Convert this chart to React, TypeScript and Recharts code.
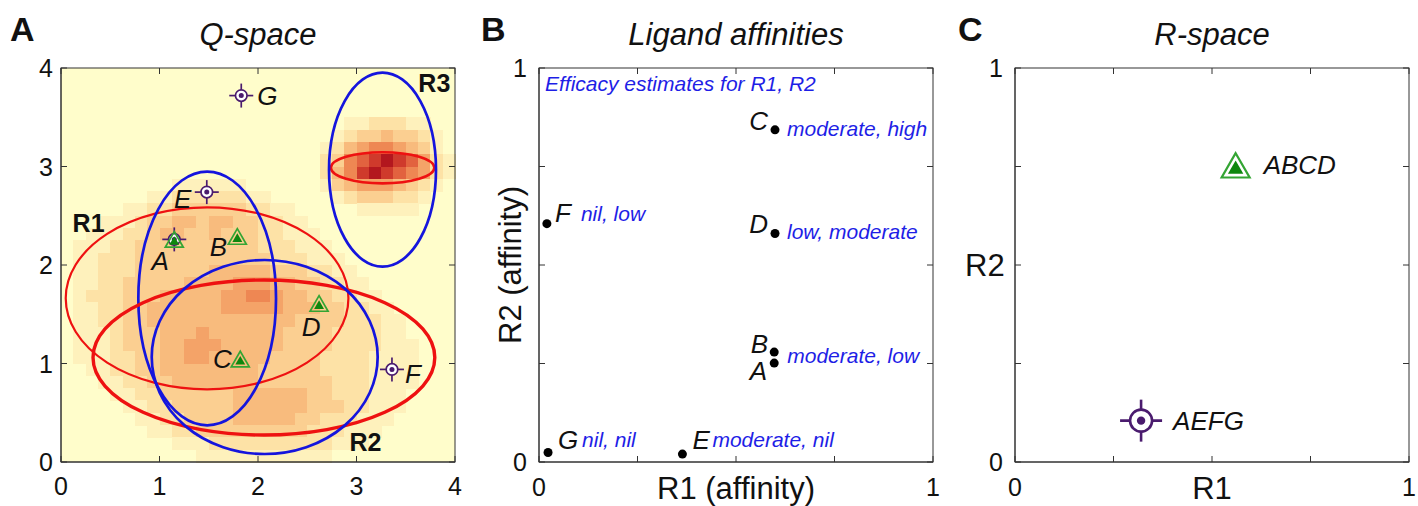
import React from 'react';
import { ScatterChart, Scatter, XAxis, YAxis, ReferenceArea, ReferenceLine } from 'recharts';

const FONT = 'Arial, "Liberation Sans", Helvetica, sans-serif';
const INK = '#111';
const FRAME = '#333';
const RED = '#EE1111';
const BLUE = '#1515DD';
const GREEN_EDGE = '#34A534';
const GREEN_FILL = '#0E870E';
const PURPLE = '#4A1B6E';
const NOTE_BLUE = '#1E1EE6';
const TICK_LEN = 6;

// ---- ligands ----
const ligandNames = ['A', 'B', 'C', 'D', 'E', 'F', 'G'];
// positions in Q-space (panel A)
const qSpaceX = [1.15, 1.79, 1.82, 2.62, 1.48, 3.36, 1.83];
const qSpaceY = [2.26, 2.29, 1.045, 1.61, 2.74, 0.94, 3.72];
// affinities (panel B)
const affinityR1 = [0.597, 0.597, 0.599, 0.599, 0.364, 0.02, 0.023];
const affinityR2 = [0.251, 0.279, 0.843, 0.58, 0.02, 0.605, 0.024];
const efficacyNotes = ['moderate, low', '', 'moderate, high', 'low, moderate', 'moderate, nil', 'nil, low', 'nil, nil'];
// groups in R-space (panel C)
const groupNames = ['ABCD', 'AEFG'];
const groupR1 = [0.56, 0.32];
const groupR2 = [0.753, 0.105];
const triangleMembers = ['A', 'B', 'C', 'D'];
const crosshairMembers = ['A', 'E', 'F', 'G'];

// receptor regions in Q-space: centre and half axes
const regionNames = ['R1', 'R1', 'R2', 'R2', 'R3', 'R3'];
const regionCX = [1.483, 1.484, 2.06, 2.068, 3.265, 3.264];
const regionCY = [1.662, 1.66, 1.061, 1.066, 2.987, 2.968];
const regionRX = [1.435, 0.699, 1.735, 1.147, 0.525, 0.543];
const regionRY = [0.924, 1.288, 0.787, 0.985, 0.158, 0.985];
const regionLabelNames = ['R1', 'R2', 'R3'];
const regionLabelX = [0.28, 3.09, 3.79];
const regionLabelY = [2.43, 0.206, 3.845];

const qTicks = [0, 1, 2, 3, 4];
const unitTicks = [0, 0.25, 0.5, 0.75, 1];
const unitTickLabels = ['0', '', '', '', '1'];

// sample density in Q-space, 0.125 cells, rows from y=4 down to y=0, levels 0-9
const densityCell = 0.125;
const densityRows = [
  '00000000 00000000 00000000 00000000',
  '00000000 00000000 00000000 00000000',
  '00000000 00000000 00000000 00000000',
  '00000000 00000000 00000000 00000000',
  '00000000 00000000 00000001 12221100',
  '00000000 00000000 00000012 33433210',
  '00000000 00000000 00000124 56654310',
  '00000000 00000000 00000236 78987521',
  '00000000 00000000 00000246 89876521',
  '00000000 01111110 00000134 55543210',
  '00000001 12222221 10000012 33322100',
  '00000112 23333332 21100000 11111000',
  '00011123 34434433 22110000 00000000',
  '00111223 44334333 22111000 00000000',
  '01112233 33333333 22211100 00000000',
  '01122233 33333333 32221110 00000000',
  '01122233 33334444 43332211 00000000',
  '01122333 33444455 54433221 10000000',
  '01222333 44444556 65443322 11000000',
  '01122334 44444555 55444332 21100000',
  '01122334 44444444 44433332 22110000',
  '01112333 44454444 44333322 22110000',
  '01112333 44555444 44333322 22111000',
  '01112233 44554444 43333222 21111000',
  '00112233 44444444 33333222 21111000',
  '00011223 34444444 33333322 21111000',
  '00001122 33333344 44443322 21110000',
  '00000112 23333344 44443332 21110000',
  '00000011 22333344 44433222 11100000',
  '00000001 12233333 33332221 11000000',
  '00000000 01112222 22222211 10000000',
  '00000000 00011111 11111100 00000000',
];
const densityColors = ['#FFFDCB', '#FEF1BC', '#FDE2A6', '#FBCF91', '#F8BB7D', '#F4A368', '#EE8753', '#E2623F', '#CF3A2C', '#B3171E'];

const REGION_STYLE = [
  { stroke: RED, width: 2.2 },
  { stroke: BLUE, width: 2.7 },
  { stroke: RED, width: 3.4 },
  { stroke: BLUE, width: 2.7 },
  { stroke: RED, width: 2.6 },
  { stroke: BLUE, width: 2.7 },
];

// label centre offsets (px) from Q-space markers
const Q_LABEL_OFFSET: Record<string, [number, number]> = {
  A: [-14, 21], B: [-19, 10], C: [-18, 0], D: [-8, 23], E: [-24, 6], F: [21, 4], G: [26, 0],
};
// panel B letter: dx, baseline dy, anchor
const B_LETTER: Record<string, [number, number, 'start' | 'end']> = {
  A: [-7, 17, 'end'], B: [-6, 1, 'end'], C: [-7, 0, 'end'], D: [-7, 0, 'end'],
  E: [10, -5, 'start'], F: [8, -2, 'start'], G: [10, -4, 'start'],
};
// panel B efficacy note: dx, baseline dy
const B_NOTE: Record<string, [number, number]> = {
  A: [13, 0], C: [12, 6], D: [12, 6], E: [30, -7], F: [34, -3], G: [34, -6],
};

const qPoints = ligandNames.map((name, i) => ({ name, x: qSpaceX[i], y: qSpaceY[i] }));
const trianglePoints = qPoints.filter((p) => triangleMembers.includes(p.name));
const crosshairPoints = qPoints.filter((p) => crosshairMembers.includes(p.name));
const affinityPoints = ligandNames.map((name, i) => ({ name, x: affinityR1[i], y: affinityR2[i], note: efficacyNotes[i] }));
const groupPoints = groupNames.map((name, i) => ({ name, x: groupR1[i], y: groupR2[i] }));
const regionLabelPoints = regionLabelNames.map((name, i) => ({ name, x: regionLabelX[i], y: regionLabelY[i] }));

const densityCells = densityRows.flatMap((row, r) =>
  row.replace(/ /g, '').split('').map((ch, c) => ({
    level: Number(ch),
    x1: c * densityCell,
    x2: (c + 1) * densityCell,
    y1: 4 - (r + 1) * densityCell,
    y2: 4 - r * densityCell,
  }))
).filter((d) => d.level > 0);

const TriangleMark = ({ cx, cy, w, sw }: { cx: number; cy: number; w: number; sw: number }) => {
  const h = w * 0.87;
  const gy = cy + h / 6;
  const pts = (s: number) =>
    `${cx},${gy - (2 * h * s) / 3} ${cx - (w * s) / 2},${gy + (h * s) / 3} ${cx + (w * s) / 2},${gy + (h * s) / 3}`;
  return (
    <g>
      <polygon points={pts(1)} fill="none" stroke={GREEN_EDGE} strokeWidth={sw} strokeLinejoin="miter" />
      <polygon points={pts(0.55)} fill={GREEN_FILL} />
    </g>
  );
};

const Crosshair = ({ cx, cy, r, arm, dot, sw }: { cx: number; cy: number; r: number; arm: number; dot: number; sw: number }) => (
  <g>
    <line x1={cx - arm} x2={cx + arm} y1={cy} y2={cy} stroke={PURPLE} strokeWidth={sw} />
    <line x1={cx} x2={cx} y1={cy - arm} y2={cy + arm} stroke={PURPLE} strokeWidth={sw} />
    <circle cx={cx} cy={cy} r={r} fill="#fff" stroke={PURPLE} strokeWidth={sw} />
    <circle cx={cx} cy={cy} r={dot} fill={PURPLE} />
  </g>
);

const qTriangleShape = (p: any) => <TriangleMark cx={p.cx} cy={p.cy} w={18} sw={1.7} />;
const qCrosshairShape = (p: any) => <Crosshair cx={p.cx} cy={p.cy} r={5.8} arm={12} dot={2.5} sw={1.7} />;
const qLabelShape = (p: any) => {
  const [dx, dy] = Q_LABEL_OFFSET[p.payload.name];
  return (
    <text x={p.cx + dx} y={p.cy + dy + 9.4} textAnchor="middle" fontSize={26} fontStyle="italic" fill={INK} fontFamily={FONT}>
      {p.payload.name}
    </text>
  );
};
const regionLabelShape = (p: any) => (
  <text x={p.cx} y={p.cy + 8.9} textAnchor="middle" fontSize={25} fontWeight="bold" fill={INK} fontFamily={FONT}>
    {p.payload.name}
  </text>
);

const affinityShape = (p: any) => {
  const { name, note } = p.payload;
  const [ldx, ldy, anchor] = B_LETTER[name];
  const n = B_NOTE[name];
  return (
    <g>
      <circle cx={p.cx} cy={p.cy} r={4.5} fill="#000" />
      <text x={p.cx + ldx} y={p.cy + ldy} textAnchor={anchor} fontSize={26} fontStyle="italic" fill={INK} fontFamily={FONT}>
        {name}
      </text>
      {note && n ? (
        <text x={p.cx + n[0]} y={p.cy + n[1]} fontSize={21} fontStyle="italic" fill={NOTE_BLUE} fontFamily={FONT}>
          {note}
        </text>
      ) : null}
    </g>
  );
};

const groupTriangleShape = (p: any) => (
  <g>
    <TriangleMark cx={p.cx} cy={p.cy} w={28} sw={2.2} />
    <text x={p.cx + 28} y={p.cy + 9} fontSize={26} fontStyle="italic" fill={INK} fontFamily={FONT}>{p.payload.name}</text>
  </g>
);
const groupCrosshairShape = (p: any) => (
  <g>
    <Crosshair cx={p.cx} cy={p.cy} r={11} arm={21} dot={4.2} sw={2.6} />
    <text x={p.cx + 32} y={p.cy + 9} fontSize={26} fontStyle="italic" fill={INK} fontFamily={FONT}>{p.payload.name}</text>
  </g>
);

const labelStyle = { fontSize: 31, fill: INK, fontFamily: FONT };

const makeTick = (fmt: (v: number) => string, side: 'bottom' | 'left') => (p: any) => (
  <text x={p.x} y={p.y} dy={side === 'bottom' ? '0.71em' : '0.36em'} textAnchor={side === 'bottom' ? 'middle' : 'end'}
    fontSize={25} fill={INK} fontFamily={FONT}>
    {fmt(p.payload.value)}
  </text>
);

// inward tick marks at both ends of each grid value, plus the closed box
const vTickShape = (p: any) => {
  const top = Math.min(p.y1, p.y2);
  const bot = Math.max(p.y1, p.y2);
  return (
    <g stroke={FRAME} strokeWidth={1}>
      <line x1={p.x1} x2={p.x1} y1={top} y2={top + TICK_LEN} />
      <line x1={p.x1} x2={p.x1} y1={bot} y2={bot - TICK_LEN} />
    </g>
  );
};
const hTickShape = (p: any) => {
  const left = Math.min(p.x1, p.x2);
  const right = Math.max(p.x1, p.x2);
  return (
    <g stroke={FRAME} strokeWidth={1}>
      <line x1={left} x2={left + TICK_LEN} y1={p.y1} y2={p.y1} />
      <line x1={right} x2={right - TICK_LEN} y1={p.y1} y2={p.y1} />
    </g>
  );
};
const boxShape = (p: any) => (
  <rect x={p.x} y={p.y} width={p.width} height={p.height} fill="none" stroke={FRAME} strokeWidth={1} />
);

const frame = (domain: [number, number], ticks: number[]) => [
  <ReferenceArea key="box" x1={domain[0]} x2={domain[1]} y1={domain[0]} y2={domain[1]} ifOverflow="visible" shape={boxShape} />,
  ...ticks.map((t) => <ReferenceLine key={`vx${t}`} x={t} ifOverflow="visible" shape={vTickShape} />),
  ...ticks.map((t) => <ReferenceLine key={`hy${t}`} y={t} ifOverflow="visible" shape={hTickShape} />),
];

const axes = (
  domain: [number, number],
  ticks: number[],
  fmt: (v: number) => string,
  yWidth: number,
  yTickMargin: number,
  xTickMargin: number,
  xLabel?: any,
  yLabel?: any
) => [
  <XAxis key="xb" type="number" dataKey="x" domain={domain} ticks={ticks} interval={0} allowDataOverflow
    height={44} tickSize={-TICK_LEN} tickMargin={xTickMargin} tick={makeTick(fmt, 'bottom')}
    axisLine={{ stroke: FRAME }} tickLine={false} label={xLabel} />,
  <YAxis key="yl" type="number" dataKey="y" domain={domain} ticks={ticks} interval={0} allowDataOverflow
    width={yWidth} tickSize={-TICK_LEN} tickMargin={yTickMargin} tick={makeTick(fmt, 'left')}
    axisLine={{ stroke: FRAME }} tickLine={false} label={yLabel} />,
];

const unitFmt = (v: number) => unitTickLabels[unitTicks.indexOf(v)] ?? '';

const QSpace = () => (
  <ScatterChart width={470} height={506} margin={{ top: 68, right: 15, bottom: 0, left: 0 }}>
    {axes([0, 4], qTicks, (v) => String(v), 61, 14, 21)}
    <ReferenceArea x1={0} x2={4} y1={0} y2={4} fill={densityColors[0]} fillOpacity={1} stroke="none" />
    {densityCells.map((d, i) => (
      <ReferenceArea key={`c${i}`} x1={d.x1} x2={d.x2} y1={d.y1} y2={d.y2} ifOverflow="visible"
        shape={(p: any) => (
          <rect x={p.x} y={p.y} width={p.width + 0.5} height={p.height + 0.5} fill={densityColors[d.level]} shapeRendering="crispEdges" />
        )} />
    ))}
    {regionNames.map((name, i) => (
      <ReferenceArea key={`e${i}`} x1={regionCX[i] - regionRX[i]} x2={regionCX[i] + regionRX[i]}
        y1={regionCY[i] - regionRY[i]} y2={regionCY[i] + regionRY[i]} ifOverflow="visible"
        shape={(p: any) => (
          <ellipse cx={p.x + p.width / 2} cy={p.y + p.height / 2} rx={p.width / 2} ry={p.height / 2}
            fill="none" stroke={REGION_STYLE[i].stroke} strokeWidth={REGION_STYLE[i].width} />
        )} />
    ))}
    {frame([0, 4], qTicks)}
    <Scatter name="regions" data={regionLabelPoints} shape={regionLabelShape} isAnimationActive={false} />
    <Scatter name="AEFG" data={crosshairPoints} shape={qCrosshairShape} isAnimationActive={false} />
    <Scatter name="ABCD" data={trianglePoints} shape={qTriangleShape} isAnimationActive={false} />
    <Scatter name="labels" data={qPoints} shape={qLabelShape} isAnimationActive={false} />
  </ScatterChart>
);

const Affinities = () => (
  <ScatterChart width={463} height={506} margin={{ top: 68, right: 11, bottom: 0, left: 0 }}>
    {axes([0, 1], unitTicks, unitFmt, 58, 18, 22,
      { value: 'R1 (affinity)', position: 'insideBottom', offset: 7, ...labelStyle },
      { value: 'R2 (affinity)', position: 'center', angle: -90, ...labelStyle })}
    {frame([0, 1], unitTicks)}
    <Scatter name="affinity" data={affinityPoints} shape={affinityShape} isAnimationActive={false} />
  </ScatterChart>
);

const RSpace = () => (
  <ScatterChart width={474} height={506} margin={{ top: 68, right: 9, bottom: 0, left: 0 }}>
    {axes([0, 1], unitTicks, unitFmt, 71, 18, 22,
      { value: 'R1', position: 'insideBottom', offset: 7, ...labelStyle },
      { value: 'R2', position: 'insideLeft', offset: 21, ...labelStyle })}
    {frame([0, 1], unitTicks)}
    <Scatter name="AEFG" data={[groupPoints[1]]} shape={groupCrosshairShape} isAnimationActive={false} />
    <Scatter name="ABCD" data={[groupPoints[0]]} shape={groupTriangleShape} isAnimationActive={false} />
  </ScatterChart>
);

export default function App() {
  return (
    <div style={{ position: 'absolute', left: 0, top: 0, width: 1418, height: 506, background: '#fff', fontFamily: FONT }}>
      <div style={{ position: 'absolute', left: 0, top: 0 }}><QSpace /></div>
      <div style={{ position: 'absolute', left: 481, top: 0 }}><Affinities /></div>
      <div style={{ position: 'absolute', left: 944, top: 0 }}><RSpace /></div>
      <svg width={1418} height={506} style={{ position: 'absolute', left: 0, top: 0, pointerEvents: 'none' }} fontFamily={FONT}>
        <text x={10} y={41} fontSize={34} fontWeight="bold" fill={INK}>A</text>
        <text x={481} y={41} fontSize={34} fontWeight="bold" fill={INK}>B</text>
        <text x={958} y={41} fontSize={34} fontWeight="bold" fill={INK}>C</text>
        <text x={258} y={45} fontSize={31} fontStyle="italic" textAnchor="middle" fill={INK}>Q-space</text>
        <text x={736} y={45} fontSize={31} fontStyle="italic" textAnchor="middle" fill={INK}>Ligand affinities</text>
        <text x={1212} y={45} fontSize={31} fontStyle="italic" textAnchor="middle" fill={INK}>R-space</text>
        <text x={545} y={91} fontSize={21} fontStyle="italic" fill={NOTE_BLUE}>Efficacy estimates for R1, R2</text>
      </svg>
    </div>
  );
}
